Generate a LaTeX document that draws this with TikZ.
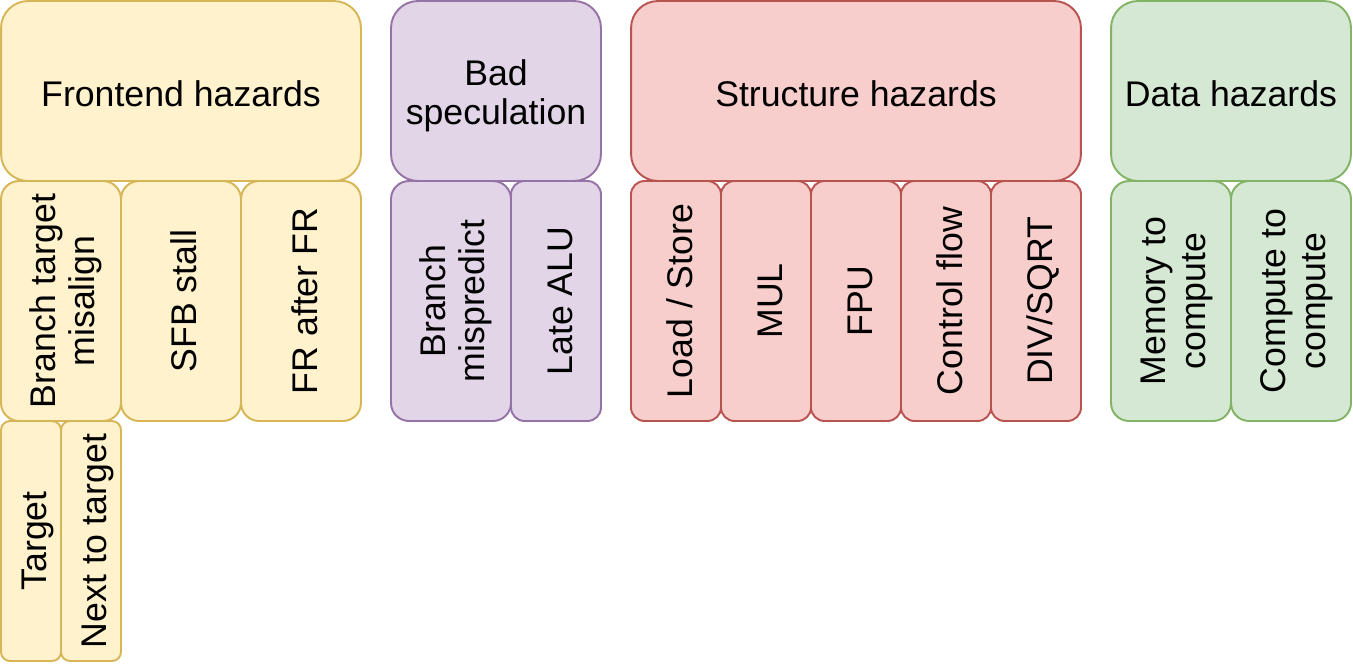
\documentclass[tikz,border=0pt]{standalone}
\usepackage{fontspec}
\setmainfont{Liberation Sans}
\usetikzlibrary{positioning}
\definecolor{feFill}{HTML}{FFF2CC}
\definecolor{feLine}{HTML}{D6B656}
\definecolor{bsFill}{HTML}{E1D5E7}
\definecolor{bsLine}{HTML}{9673A6}
\definecolor{shFill}{HTML}{F8CECC}
\definecolor{shLine}{HTML}{B85450}
\definecolor{dhFill}{HTML}{D5E8D4}
\definecolor{dhLine}{HTML}{82B366}
\tikzset{
  hz/.style={draw, line width=1.1pt, align=center, inner sep=0pt, text height=0.64cm, text depth=0pt, font=\fontsize{20.3}{22.7}\selectfont},
  hzfe/.style={hz, draw=feLine, fill=feFill},
  hzbs/.style={hz, draw=bsLine, fill=bsFill},
  hzsh/.style={hz, draw=shLine, fill=shFill},
  hzdh/.style={hz, draw=dhLine, fill=dhFill},
  twoline/.style={text height=1.36cm, text depth=0pt},
  head/.style={minimum height=3.6cm, rounded corners=0.54cm},
  subw/.style={rotate=90, minimum width=4.8cm, minimum height=2.4cm, rounded corners=0.36cm},
  subm/.style={rotate=90, minimum width=4.8cm, minimum height=1.8cm, rounded corners=0.27cm},
  subs/.style={rotate=90, minimum width=4.8cm, minimum height=1.2cm, rounded corners=0.18cm},
}
\begin{document}
\begin{tikzpicture}[x=0.02cm,y=-0.02cm]
  \useasboundingbox (0,0) rectangle (1353,663);
  % Frontend
  \node[hzfe, head, minimum width=7.2cm] (fe) at (181,91) {Frontend hazards};
  \node[hzfe, subw, twoline] (fe-bta) at (61,301) {Branch target\\misalign};
  \node[hzfe, subw] (fe-sfb) at (181,301) {SFB stall};
  \node[hzfe, subw] (fe-frfr) at (301,301) {FR after FR};
  \node[hzfe, subs] (fe-tgt) at (31,541) {Target};
  \node[hzfe, subs] (fe-next) at (91,541) {Next to target};
  % Bad speculation
  \node[hzbs, head, twoline, minimum width=4.2cm] (bs) at (496,91) {Bad\\speculation};
  \node[hzbs, subw, twoline] (bs-mis) at (451,301) {Branch\\mispredict};
  \node[hzbs, subm] (bs-alu) at (556,301) {Late ALU};
  % Structure
  \node[hzsh, head, minimum width=9cm] (sh) at (856,91) {Structure hazards};
  \foreach \lbl [count=\i] in {Load / Store, MUL, FPU, Control flow, DIV/SQRT}
    \node[hzsh, subm] (sh-\i) at ({586+90*\i},301) {\lbl};
  % Data
  \node[hzdh, head, minimum width=4.8cm] (dh) at (1231,91) {Data hazards};
  \node[hzdh, subw, twoline] (dh-mem) at (1171,301) {Memory to\\compute};
  \node[hzdh, subw, twoline] (dh-comp) at (1291,301) {Compute to\\compute};
\end{tikzpicture}
\end{document}
